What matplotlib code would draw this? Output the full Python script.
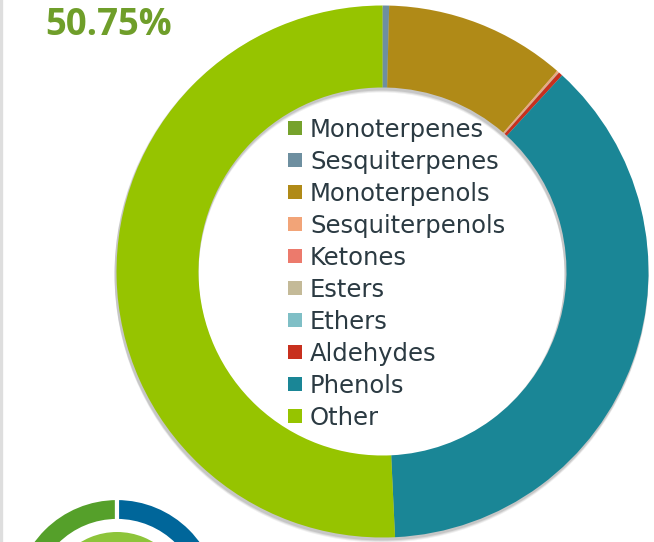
import matplotlib
matplotlib.use("Agg")
import matplotlib.pyplot as plt
from matplotlib.patches import Patch, Wedge

labels = ["Monoterpenes", "Sesquiterpenes", "Monoterpenols", "Sesquiterpenols",
          "Ketones", "Esters", "Ethers", "Aldehydes", "Phenols", "Other"]
values = [0.0, 0.4, 11.0, 0.1, 0.0, 0.05, 0.0, 0.25, 37.45, 50.75]
colors = ["#76A22C", "#6E8FA0", "#B08A17", "#F2A478", "#EC7A6C",
          "#C4BA98", "#7FBFC6", "#C8301E", "#1A8696", "#96C400"]
headline = "50.75%"

small_values = [50, 50]
small_colors = ["#55A02A", "#00669A"]

W, H = 654, 542
fig = plt.figure(figsize=(W / 100, H / 100), dpi=100)
ax = fig.add_axes([0, 0, 1, 1])

cx, cy, R, ring = 382.5, 270.5, 266, 82

# soft shadow under main ring
for off, a in [(4, 0.06), (3, 0.08), (2, 0.10)]:
    ax.add_patch(Wedge((cx - 1, cy - off), R + 1, 0, 360, width=ring + 2,
                       facecolor="black", alpha=a, edgecolor="none", zorder=1))

ax.pie(values, colors=colors, startangle=90, counterclock=False,
       radius=R, center=(cx, cy),
       wedgeprops=dict(width=ring, edgecolor="none", zorder=2))

# small partially visible donut (bottom-left)
scx, scy = 117, H - 602
ax.pie(small_values, colors=small_colors, startangle=90, counterclock=True,
       radius=104, center=(scx, scy),
       wedgeprops=dict(width=23, edgecolor="white", linewidth=3, zorder=2))
ax.pie([1], colors=["#8DC43A"], radius=70, center=(scx, scy),
       wedgeprops=dict(edgecolor="none", zorder=2))

ax.axvline(1.2, color="#DEDEDE", lw=2.4, zorder=3)

ax.text(45, H - 35, headline, ha="left", va="baseline", fontsize=26.3,
        fontweight="bold", color="#6F9E2A", family="Open Sans")

handles = [Patch(facecolor=c, edgecolor="none") for c in colors]
leg = ax.legend(handles, labels, loc="upper left",
                bbox_to_anchor=(288 / W, 1 - 117.5 / H),
                frameon=False, prop=dict(family="DejaVu Sans", size=17.5),
                labelcolor="#2B3A42", handlelength=0.56, handleheight=0.56,
                handletextpad=0.34, labelspacing=0.33, borderpad=0, borderaxespad=0)

ax.set_xlim(0, W)
ax.set_ylim(0, H)
ax.set_aspect("equal")
ax.axis("off")
fig.savefig("out.png", dpi=100)
